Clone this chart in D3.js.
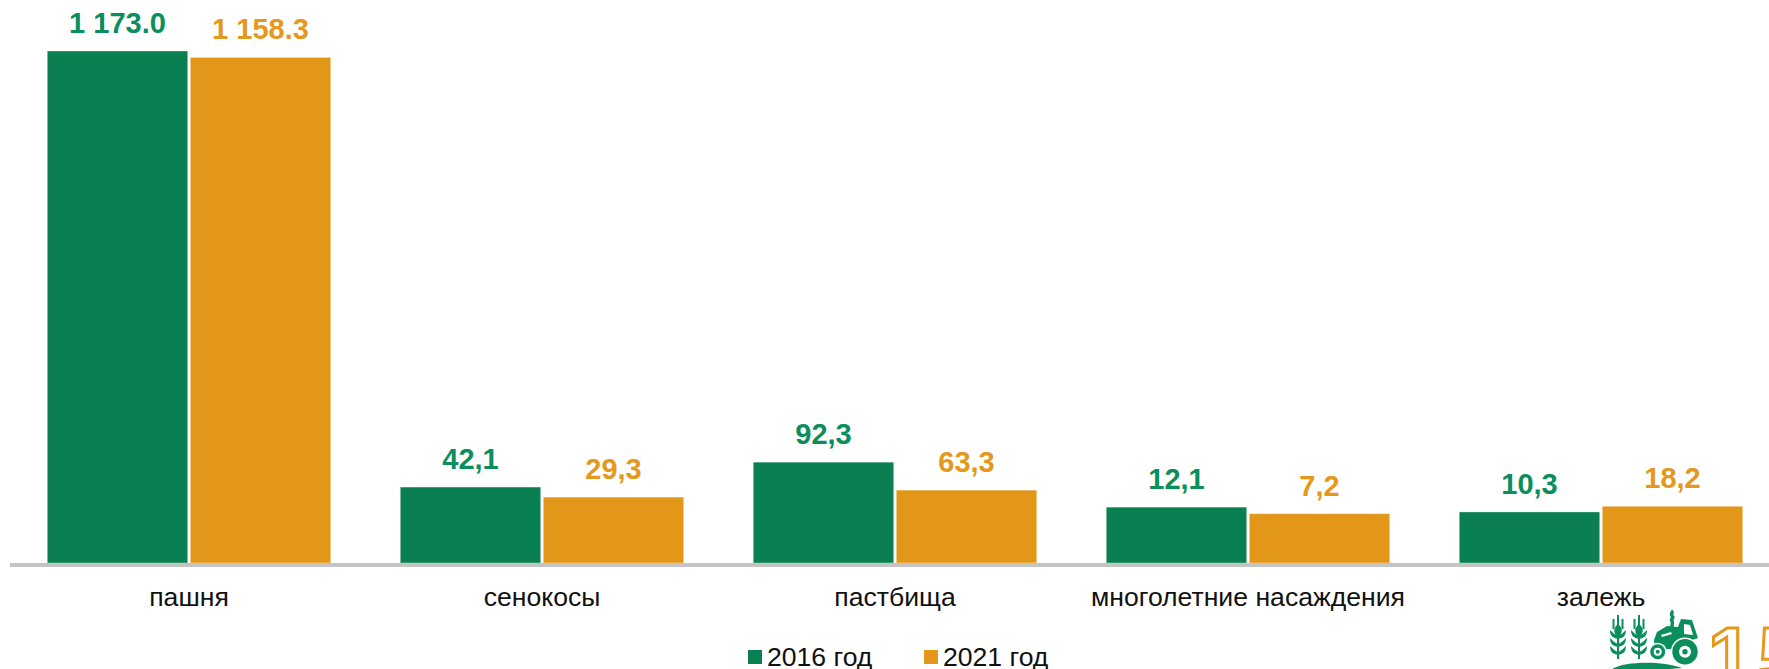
<!DOCTYPE html>
<html>
<head>
<meta charset="utf-8">
<script src="https://cdn.jsdelivr.net/npm/d3@7/dist/d3.min.js"></script>
<style>
    html, body { margin: 0; padding: 0; background: #fff; overflow: hidden; }
    text { font-family: "Liberation Sans", Arial, sans-serif; }
</style>
</head>
<body>
<div id="chart"></div>
<script>
var categories = ['пашня', 'сенокосы', 'пастбища', 'многолетние насаждения', 'залежь'];
var seriesNames = ['2016 год', '2021 год'];

// printed labels, as they stand in the picture
var labels2016 = ['1 173.0', '42,1', '92,3', '12,1', '10,3'];
var labels2021 = ['1 158.3', '29,3', '63,3', '7,2', '18,2'];

// drawn bar heights: the source bars do not follow the
// printed numbers (small ones are stretched), so they are kept apart from the labels
var heights2016 = [1173, 174, 231, 128, 117];
var heights2021 = [1158.3, 151, 167, 113, 130];

var width = 1769;
var height = 669;
var baseline = 563;

var svg = d3.select('#chart').append('svg')
    .attr('width', width)
    .attr('height', height)
    .style('display', 'block');

var x0 = d3.scaleBand()
    .domain(categories)
    .range([12.5, 1777.5])
    .paddingInner(0.197)
    .paddingOuter(0.0985);

var x1 = d3.scaleBand()
    .domain(seriesNames)
    .range([0, x0.bandwidth()])
    .paddingInner(0.018);

var y = d3.scaleLinear()
    .domain([0, 1173])
    .range([baseline, 51]);

var color = d3.scaleOrdinal()
    .domain(seriesNames)
    .range(['#0A8052', '#E29718']);

var textColor = d3.scaleOrdinal()
    .domain(seriesNames)
    .range(['#0A8F5C', '#E5981C']);

var rows = [
    { name: seriesNames[0], heights: heights2016, labels: labels2016 },
    { name: seriesNames[1], heights: heights2021, labels: labels2021 }
];

rows.forEach(function (row) {
    var g = svg.append('g').attr('transform', 'translate(' + x1(row.name) + ',0)');

    g.selectAll('rect')
        .data(categories)
        .enter()
        .append('rect')
        .attr('x', function (d) { return x0(d); })
        .attr('y', function (d, i) { return y(row.heights[i]); })
        .attr('width', x1.bandwidth())
        .attr('height', function (d, i) { return y(0) - y(row.heights[i]); })
        .attr('fill', color(row.name))
        .attr('stroke', '#fff')
        .attr('stroke-opacity', 0.35)
        .attr('stroke-width', 1);

    g.selectAll('text')
        .data(categories)
        .enter()
        .append('text')
        .attr('x', function (d) { return x0(d) + x1.bandwidth() / 2; })
        .attr('y', function (d, i) { return y(row.heights[i]) - 18; })
        .attr('text-anchor', 'middle')
        .attr('font-size', 29)
        .attr('font-weight', 'bold')
        .attr('fill', textColor(row.name))
        .text(function (d, i) { return row.labels[i]; });
});

// axis line runs off the right edge of the picture
var xAxis = svg.append('g')
    .attr('transform', 'translate(0,565)')
    .call(d3.axisBottom(x0).tickSize(0).tickPadding(22).tickSizeOuter(0));
xAxis.select('.domain')
    .attr('d', 'M10,0H' + width)
    .attr('stroke', '#C4C4C4')
    .attr('stroke-width', 4);
xAxis.selectAll('text')
    .attr('font-size', 26.6)
    .attr('font-family', '"Liberation Sans", Arial, sans-serif')
    .attr('fill', '#111');

// legend
var legendX = [748, 924];
var legend = svg.selectAll('.legend')
    .data(seriesNames)
    .enter()
    .append('g')
    .attr('class', 'legend')
    .attr('transform', function (d, i) { return 'translate(' + legendX[i] + ',650)'; });
legend.append('rect')
    .attr('width', 14)
    .attr('height', 14)
    .attr('fill', function (d) { return color(d); });
legend.append('text')
    .attr('x', 19)
    .attr('y', 16)
    .attr('font-size', 26.6)
    .attr('fill', '#111')
    .text(function (d) { return d; });

// logo in the corner, cut by the edge like the source
var logo = svg.append('g').attr('class', 'logo');
var green = '#0A8F5C';
var orange = '#E5981C';

[1618, 1639].forEach(function (cx) {
    logo.append('path')
        .attr('d', 'M' + cx + ',615V659M' + (cx - 4.5) + ',619V629M' + (cx + 4.5) + ',619V629')
        .attr('stroke', green).attr('stroke-width', 2).attr('fill', 'none');
    logo.append('path')
        .attr('d', 'M' + cx + ',624c5,4 5,9 0,14c-5,-5 -5,-10 0,-14z')
        .attr('fill', green);
    [630, 638, 646].forEach(function (py) {
        logo.append('path')
            .attr('d', 'M' + (cx - 8) + ',' + py + 'c0,6 3,8 8,9v-3c-3,-1 -5,-3 -8,-6z' +
                'M' + (cx + 8) + ',' + py + 'c0,6 -3,8 -8,9v-3c3,-1 5,-3 8,-6z')
            .attr('fill', green);
    });
});

// tractor body, cabin window, hood stripe
logo.append('path')
    .attr('d', 'M1654,640L1657,632L1667,626L1678,627L1681,619L1692,620L1698,638L1692,640L1678,642L1672,649L1655,649z')
    .attr('fill', green);
logo.append('path')
    .attr('d', 'M1684,624L1690,625L1693,635L1684,634z')
    .attr('fill', '#fff');
logo.append('path')
    .attr('d', 'M1661,635L1671,632L1672,634L1662,637z')
    .attr('fill', '#fff');
// exhaust
logo.append('path')
    .attr('d', 'M1671,611c3,2 -1,3 1,5c3,2 -2,3 0,5c1,2 0,3 0,5l0,3')
    .attr('stroke', green).attr('stroke-width', 3.5).attr('fill', 'none');
[[1657.7, 651.7, 7.5, 4, 2], [1685, 651.7, 12.7, 6, 2.7]].forEach(function (w) {
    logo.append('circle').attr('cx', w[0]).attr('cy', w[1]).attr('r', w[2] + 1.5).attr('fill', '#fff');
    logo.append('circle').attr('cx', w[0]).attr('cy', w[1]).attr('r', w[2]).attr('fill', green);
    logo.append('circle').attr('cx', w[0]).attr('cy', w[1]).attr('r', w[3]).attr('fill', '#fff');
    logo.append('circle').attr('cx', w[0]).attr('cy', w[1]).attr('r', w[4]).attr('fill', green);
});
logo.append('path')
    .attr('d', 'M1612,669c14,-8 50,-8 70,-1l-12,1z')
    .attr('fill', green);

logo.append('text')
    .attr('x', 1708)
    .attr('y', 683)
    .attr('font-size', 80)
    .attr('font-weight', 'bold')
    .attr('letter-spacing', 6)
    .attr('fill', '#fff')
    .attr('stroke', orange)
    .attr('stroke-width', 3)
    .text('15');
</script>
</body>
</html>
